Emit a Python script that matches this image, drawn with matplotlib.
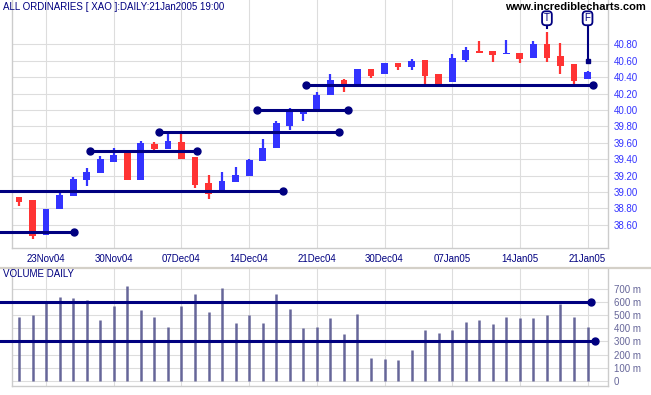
import matplotlib
matplotlib.use('Agg')
import matplotlib.pyplot as plt
import numpy as np

plt.rcParams['font.family'] = ['Liberation Sans', 'DejaVu Sans']

# daily OHLC (index /100)
opens = [38.94, 38.90, 38.47, 38.79, 38.95, 39.14, 39.23, 39.37, 39.47, 39.14,
         39.58, 39.52, 39.61, 39.42, 39.11, 39.00, 39.12, 39.20, 39.38, 39.54,
         39.80, 39.95, 39.99, 40.18, 40.37, 40.31, 40.50, 40.44, 40.57, 40.52,
         40.61, 40.44, 40.34, 40.61, 40.72, 40.72, 40.68, 40.70, 40.64, 40.81,
         40.66, 40.56, 40.38]
highs = [38.94, 38.90, 38.79, 39.01, 39.18, 39.29, 39.44, 39.53, 39.48, 39.62,
         39.61, 39.73, 39.71, 39.42, 39.21, 39.24, 39.30, 39.40, 39.64, 39.86,
         40.03, 40.00, 40.22, 40.44, 40.38, 40.50, 40.50, 40.57, 40.57, 40.62,
         40.61, 40.44, 40.68, 40.77, 40.84, 40.72, 40.86, 40.70, 40.84, 40.95,
         40.82, 40.56, 40.48]
lows = [38.83, 38.43, 38.47, 38.79, 38.95, 39.07, 39.23, 39.36, 39.14, 39.14,
        39.48, 39.52, 39.40, 39.05, 38.91, 39.00, 39.12, 39.20, 39.38, 39.54,
        39.75, 39.87, 39.99, 40.18, 40.22, 40.30, 40.39, 40.44, 40.49, 40.49,
        40.31, 40.30, 40.34, 40.58, 40.70, 40.59, 40.68, 40.57, 40.64, 40.59,
        40.44, 40.31, 40.38]
closes = [38.88, 38.46, 38.79, 38.96, 39.16, 39.24, 39.40, 39.45, 39.14, 39.60,
          39.52, 39.62, 39.40, 39.09, 38.98, 39.13, 39.21, 39.39, 39.53, 39.84,
          39.97, 40.00, 40.18, 40.37, 40.28, 40.50, 40.42, 40.57, 40.52, 40.60,
          40.42, 40.32, 40.64, 40.73, 40.70, 40.67, 40.70, 40.62, 40.81, 40.63,
          40.54, 40.36, 40.47]
# volume in millions
volumes = [483, 500, 600, 639, 628, 613, 463, 570, 723, 540,
           486, 407, 567, 662, 524, 707, 440, 501, 440, 662,
           547, 402, 410, 478, 356, 509, 173, 165, 158, 234,
           387, 364, 387, 448, 463, 433, 486, 478, 478, 501,
           585, 486, 410]

date_idx = [2, 7, 12, 17, 22, 27, 32, 37, 42]
date_labels = ['23Nov04', '30Nov04', '07Dec04', '14Dec04', '21Dec04',
               '30Dec04', '07Jan05', '14Jan05', '21Jan05']
price_ticks = [38.60, 38.80, 39.00, 39.20, 39.40, 39.60, 39.80, 40.00, 40.20, 40.40, 40.60, 40.80]
vol_ticks = [0, 100, 200, 300, 400, 500, 600, 700]

# trend lines: start index, end index, level (None start = runs off the left edge)
line_start = [None, None, 5.27, 10.37, 17.58, 21.2]
line_end = [4.04, 19.48, 13.13, 23.66, 24.33, 42.43]
line_level = [38.51, 39.01, 39.50, 39.73, 40.00, 40.30]

vol_line_level = [600, 300]
vol_line_end = [42.24, 42.52]

# signal flags
signal_text = ['T', 'F']
signal_idx = [39, 42]
signal_tip = [41.007, 40.60]

W, H = 651, 395
fig = plt.figure(figsize=(W / 100, H / 100), dpi=100)
fig.patch.set_facecolor('white')

def px_axes(left, top, right, bottom):
    return fig.add_axes([left / W, 1 - bottom / H, (right - left) / W, (bottom - top) / H])

ax = px_axes(12, 0, 608, 248)
axv = px_axes(12, 268, 608, 385.7)

navy = '#000080'
grid_c = '#dddddd'
up_c = '#3333ff'
down_c = '#ff3333'
x = np.arange(len(closes))
x_left = -0.517
x_right = 43.51
x_fig0 = -1.41  # data x at the left edge of the picture

for a in (ax, axv):
    a.set_xlim(x_left, x_right)
    for s in a.spines.values():
        s.set_color('#cccccc')
        s.set_linewidth(1)
    a.spines['top'].set_visible(False)
    a.set_xticks(date_idx)
    a.grid(True, color=grid_c, linewidth=0.8)
    a.set_axisbelow(True)
    a.yaxis.tick_right()
    a.tick_params(length=0)

# price panel
ax.set_ylim(38.315, 41.343)
ax.set_yticks(price_ticks)
ax.set_yticklabels(['%.2f' % p for p in price_ticks])
ax.tick_params(axis='y', labelsize=7, labelcolor='#3333ff', pad=4)
ax.set_xticklabels(date_labels)
ax.tick_params(axis='x', labelsize=7, labelcolor=navy, pad=4)

for i in range(len(closes)):
    c = up_c if closes[i] >= opens[i] else down_c
    ax.vlines(x[i], lows[i], highs[i], color=c, linewidth=1.6, zorder=3)
    lo = min(opens[i], closes[i])
    hgt = max(abs(closes[i] - opens[i]), 0.02)
    ax.bar(x[i], hgt, bottom=lo, width=0.5, color=c, zorder=3)

for s, e, lv in zip(line_start, line_end, line_level):
    xs = x_fig0 if s is None else s
    ax.plot([xs, e], [lv, lv], color=navy, linewidth=2.2, clip_on=False, zorder=4)
    ax.plot([e], [lv], 'o', color=navy, markersize=5, clip_on=False, zorder=5)
    if s is not None:
        ax.plot([s], [lv], 'o', color=navy, markersize=5, clip_on=False, zorder=5)

for t, i, tip in zip(signal_text, signal_idx, signal_tip):
    ax.plot([i, i], [41.06, tip], color=navy, linewidth=1.5, zorder=4)
    if t == 'F':
        ax.plot([i], [tip], 's', color=navy, markersize=2.5, zorder=5)
    ax.text(i, 41.12, t, ha='center', va='center', fontsize=7, color=navy, zorder=6,
            bbox=dict(boxstyle='round,pad=0.2,rounding_size=0.35', fc='white', ec=navy, lw=1.3))

# volume panel
axv.set_ylim(-38, 860)
axv.set_yticks(vol_ticks)
axv.set_yticklabels(['%d m' % v if v else '0' for v in vol_ticks])
axv.tick_params(axis='y', labelsize=7, labelcolor='#666699', pad=4)
axv.set_xticklabels([])
axv.vlines(x, 0, volumes, color='#666699', linewidth=1.8, zorder=3)
for lv, e in zip(vol_line_level, vol_line_end):
    axv.plot([x_fig0, e], [lv, lv], color=navy, linewidth=2.2, clip_on=False, zorder=4)
    axv.plot([e], [lv], 'o', color=navy, markersize=5, clip_on=False, zorder=5)

# separator between panels
fig.add_artist(plt.Line2D([0, 1], [1 - 267.5 / H, 1 - 267.5 / H], color='#d4d0c8',
                          linewidth=1.6, transform=fig.transFigure))

fig.text(3 / W, 1 - 7 / H, 'ALL ORDINARIES [ XAO ]:DAILY:21Jan2005 19:00',
         fontsize=7, color=navy, va='center', ha='left')
fig.text(646 / W, 1 - 7 / H, 'www.incrediblecharts.com', fontsize=8, fontweight='bold',
         color='black', va='center', ha='right')
fig.text(3 / W, 1 - 274 / H, 'VOLUME DAILY', fontsize=7, color=navy, va='center', ha='left')

fig.savefig('out.png', dpi=100)
